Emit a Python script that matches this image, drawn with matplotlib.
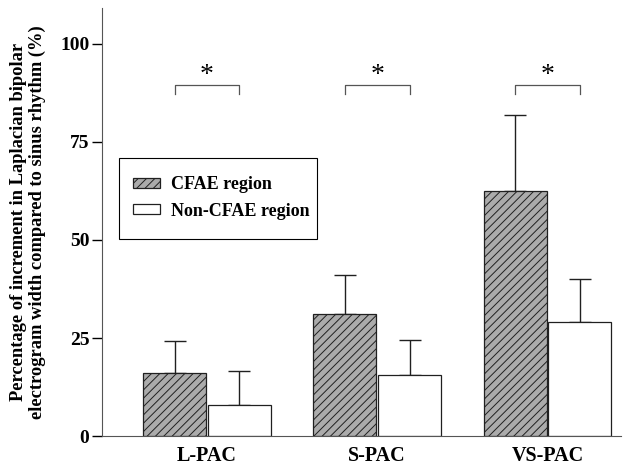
import numpy as np
import matplotlib
matplotlib.use('Agg')
import matplotlib.pyplot as plt
from matplotlib.patches import Rectangle

plt.rcParams['font.family'] = ['Liberation Serif', 'DejaVu Serif']
plt.rcParams['font.weight'] = 'bold'
plt.rcParams['hatch.color'] = '#303030'
plt.rcParams['hatch.linewidth'] = 0.7

# ===== Data =====
groups = ['L-PAC', 'S-PAC', 'VS-PAC']
cfae_mean = [16.0, 31.2, 62.5]
cfae_err = [8.3, 9.8, 19.3]
non_mean = [8.0, 15.5, 29.2]
non_err = [8.5, 9.0, 10.8]
sig_labels = ['*', '*', '*']

x = np.arange(len(groups))
w = 0.37
off = 0.19

fig = plt.figure(figsize=(6.25, 4.65), dpi=100)
ax = fig.add_axes([0.163, 0.062, 0.83, 0.92])

ax.bar(x - off, cfae_mean, w, color='#ababab', edgecolor='#202020', lw=0.9,
       hatch='////', label='CFAE region', zorder=2)
ax.bar(x + off, non_mean, w, color='white', edgecolor='#202020', lw=0.9,
       label='Non-CFAE region', zorder=2)
ax.errorbar(x - off, cfae_mean, yerr=[np.zeros(3), cfae_err], fmt='none',
            ecolor='#202020', elinewidth=1, capsize=8, capthick=1, zorder=1)
ax.errorbar(x + off, non_mean, yerr=[np.zeros(3), non_err], fmt='none',
            ecolor='#202020', elinewidth=1, capsize=8, capthick=1, zorder=1)

# significance brackets
for xi, s in zip(x, sig_labels):
    ax.plot([xi - off, xi - off, xi + off, xi + off], [87.3, 89.6, 89.6, 87.3],
            color='#555555', lw=0.9)
    ax.text(xi, 88.8, s, ha='center', va='bottom', fontsize=20, fontweight='normal')

ax.set_xlim(-0.618, 2.43)
ax.set_ylim(0, 109)
ax.set_yticks([0, 25, 50, 75, 100])
ax.set_xticks(x)
ax.set_xticklabels(groups, fontsize=14.5, fontweight='bold')
ax.tick_params(axis='x', length=0, pad=7)
ax.tick_params(axis='y', labelsize=14, length=7, width=1, pad=2)
for lab in ax.get_yticklabels():
    lab.set_fontweight('bold')
ax.spines['top'].set_visible(False)
ax.spines['right'].set_visible(False)
ax.spines['left'].set_color('#555555')
ax.spines['bottom'].set_color('#555555')

ax.set_ylabel('Percentage of increment in Laplacian bipolar\n'
              'electrogram width compared to sinus rhythm (%)',
              fontsize=13.3, fontweight='bold', labelpad=10, linespacing=1.15)

# legend box drawn separately so the padding matches
ax.add_patch(Rectangle((0.033, 0.46), 0.381, 0.19, transform=ax.transAxes,
                       facecolor='white', edgecolor='black', lw=0.8, zorder=4))
leg = ax.legend(loc='upper left', bbox_to_anchor=(0.06, 0.607), fontsize=13,
                frameon=False, borderaxespad=0, borderpad=0,
                handlelength=1.5, handleheight=0.5,
                labelspacing=0.5, handletextpad=0.6)
leg.set_zorder(5)

plt.savefig('out.png', dpi=100)
